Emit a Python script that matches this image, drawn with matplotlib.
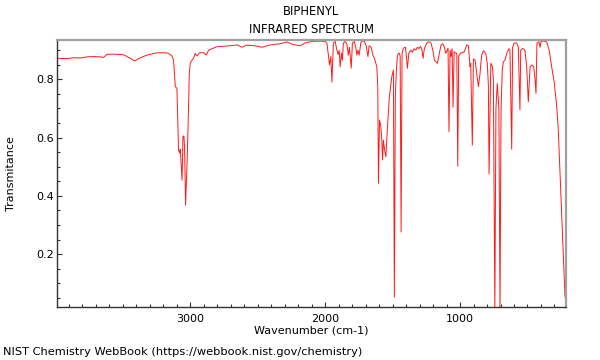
import matplotlib
matplotlib.use("Agg")
import matplotlib.pyplot as plt
from matplotlib.ticker import MultipleLocator

# IR spectrum of biphenyl
wavenumber = [3983, 3913, 3864, 3815, 3765, 3716, 3667, 3642, 3617, 3543,
              3494, 3444, 3413, 3370, 3321, 3247, 3185, 3161, 3136, 3124,
              3111, 3099, 3087, 3079, 3074, 3061, 3054, 3047, 3042, 3035,
              3024, 3017, 3007, 3000, 2987, 2976, 2963, 2950, 2931, 2901,
              2881, 2864, 2802, 2704, 2654, 2617, 2580, 2519, 2467, 2407,
              2333, 2282, 2244, 2185, 2148, 2096, 2037, 2000, 1987, 1976,
              1968, 1958, 1950, 1939, 1926, 1913, 1904, 1896, 1889, 1879,
              1872, 1865, 1852, 1839, 1828, 1820, 1807, 1798, 1785, 1773,
              1765, 1757, 1748, 1735, 1721, 1709, 1696, 1683, 1674, 1659,
              1646, 1635, 1617, 1610, 1605, 1597, 1587, 1580, 1575, 1568,
              1560, 1550, 1538, 1524, 1506, 1494, 1487, 1480, 1472, 1465,
              1458, 1450, 1444, 1437, 1430, 1420, 1405, 1400, 1390, 1380,
              1365, 1353, 1341, 1328, 1316, 1304, 1294, 1284, 1274, 1265,
              1247, 1230, 1215, 1202, 1190, 1178, 1168, 1156, 1141, 1128,
              1116, 1106, 1099, 1089, 1082, 1074, 1067, 1059, 1052, 1044,
              1037, 1024, 1017, 1010, 993, 983, 968, 950, 938, 926,
              921, 909, 901, 889, 876, 864, 852, 840, 827, 810,
              798, 790, 785, 772, 760, 753, 742, 734, 724, 712,
              704, 696, 687, 679, 667, 654, 637, 630, 617, 610,
              600, 580, 568, 556, 550, 536, 519, 506, 494, 481,
              469, 454, 444, 437, 430, 415, 407, 400, 383, 358,
              339, 321, 302, 284, 272, 247, 222]
transmittance = [0.872, 0.871, 0.874, 0.873, 0.877, 0.878, 0.877, 0.875, 0.886, 0.886,
                 0.884, 0.872, 0.863, 0.874, 0.883, 0.891, 0.891, 0.889, 0.880, 0.866,
                 0.775, 0.769, 0.557, 0.547, 0.560, 0.454, 0.605, 0.605, 0.560, 0.368,
                 0.511, 0.626, 0.820, 0.855, 0.866, 0.872, 0.889, 0.880, 0.891, 0.891,
                 0.883, 0.900, 0.912, 0.915, 0.918, 0.910, 0.917, 0.915, 0.910, 0.918,
                 0.922, 0.928, 0.920, 0.915, 0.925, 0.930, 0.931, 0.930, 0.924, 0.883,
                 0.849, 0.878, 0.790, 0.924, 0.930, 0.900, 0.885, 0.900, 0.843, 0.890,
                 0.866, 0.924, 0.930, 0.921, 0.883, 0.910, 0.838, 0.924, 0.930, 0.910,
                 0.883, 0.900, 0.883, 0.927, 0.932, 0.930, 0.915, 0.878, 0.915, 0.910,
                 0.883, 0.872, 0.843, 0.775, 0.443, 0.660, 0.637, 0.590, 0.523, 0.591,
                 0.560, 0.534, 0.637, 0.740, 0.809, 0.832, 0.053, 0.740, 0.832, 0.878,
                 0.889, 0.889, 0.880, 0.276, 0.889, 0.907, 0.910, 0.889, 0.838, 0.889,
                 0.900, 0.893, 0.905, 0.900, 0.910, 0.905, 0.913, 0.905, 0.872, 0.905,
                 0.924, 0.929, 0.924, 0.900, 0.866, 0.860, 0.855, 0.883, 0.918, 0.922,
                 0.910, 0.889, 0.895, 0.907, 0.620, 0.900, 0.878, 0.905, 0.704, 0.895,
                 0.891, 0.889, 0.502, 0.880, 0.891, 0.891, 0.895, 0.918, 0.915, 0.843,
                 0.855, 0.574, 0.870, 0.866, 0.820, 0.775, 0.820, 0.883, 0.898, 0.889,
                 0.855, 0.780, 0.475, 0.855, 0.843, 0.800, 0.000, 0.700, 0.786, 0.700,
                 0.000, 0.700, 0.832, 0.860, 0.866, 0.889, 0.905, 0.900, 0.560, 0.910,
                 0.924, 0.925, 0.910, 0.695, 0.900, 0.906, 0.900, 0.843, 0.723, 0.843,
                 0.849, 0.843, 0.800, 0.752, 0.924, 0.929, 0.910, 0.929, 0.932, 0.928,
                 0.900, 0.843, 0.790, 0.710, 0.630, 0.340, 0.053]

fig = plt.figure(figsize=(6, 3.6), dpi=100)
ax = fig.add_axes([0.095, 0.146, 0.848, 0.743])

ax.plot(wavenumber, transmittance, color="#ff1a1a", lw=0.7)

ax.set_xlim(3988, 216)
ax.set_ylim(0.017, 0.935)

ax.xaxis.set_major_locator(MultipleLocator(1000))
ax.xaxis.set_minor_locator(MultipleLocator(100))
ax.yaxis.set_major_locator(MultipleLocator(0.2))
ax.yaxis.set_minor_locator(MultipleLocator(0.05))
ax.tick_params(which="both", direction="in", top=False, right=False,
               labelsize=8, color="#333333")
ax.tick_params(which="major", length=3.6, width=0.8)
ax.tick_params(which="minor", length=2, width=0.8)
ax.tick_params(axis="x", pad=5)
ax.tick_params(axis="y", pad=2)

for s in ["top", "right"]:
    ax.spines[s].set_color("#a0a0a0")
    ax.spines[s].set_linewidth(1.6)
for s in ["left", "bottom"]:
    ax.spines[s].set_color("#333333")
    ax.spines[s].set_linewidth(1.0)

ax.set_xlabel("Wavenumber (cm-1)", fontsize=8, labelpad=1)
ax.set_ylabel("Transmitance", fontsize=8, labelpad=15)

fig.text(0.519, 0.967, "BIPHENYL", ha="center", va="center", fontsize=8.3)
fig.text(0.519, 0.919, "INFRARED SPECTRUM", ha="center", va="center", fontsize=8.3)
fig.text(0.005, 0.022, "NIST Chemistry WebBook (https://webbook.nist.gov/chemistry)",
         ha="left", va="center", fontsize=8.2)

fig.savefig("out.png", dpi=100)
